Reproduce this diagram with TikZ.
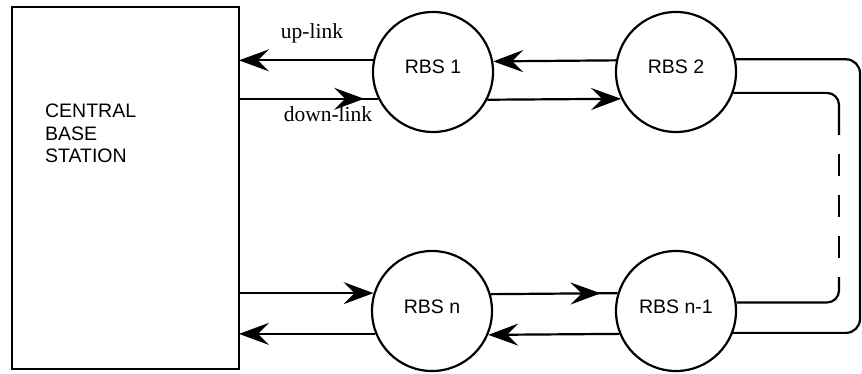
\documentclass[tikz,border=0pt]{standalone}
\usepackage{fontspec}
\setmainfont{Liberation Serif}
\newfontfamily\helv{Liberation Sans}
\usetikzlibrary{arrows.meta,decorations.markings,calc}
\begin{document}
\begin{tikzpicture}[x=1pt,y=-1pt,
  line width=2.2pt,
  rbs/.style={circle,draw,minimum size=120pt,inner sep=0pt,text height=14pt,text depth=10pt,
    font=\helv\fontsize{19.5}{22}\selectfont},
  tipstyle/.style={-{Stealth[length=30pt,width=22pt,inset=11pt]}},
  midtip/.style={postaction={decorate},decoration={markings,
    mark=at position #1 with {\arrow{Stealth[length=30pt,width=22pt,inset=11pt]}}}},
  lbl/.style={font=\fontsize{21.5}{24}\selectfont,inner sep=0pt},
  cbsbox/.style={draw,minimum width=227pt,minimum height=362pt,inner sep=0pt,outer sep=0pt}
]
\useasboundingbox (0,0) rectangle (862,374);

% central base station
\node[cbsbox,anchor=north west] (cbs) at (12,7) {};
\node[anchor=north west,align=left,inner sep=0pt,
  font=\helv\fontsize{19.5}{22.5}\selectfont] (cbstext) at (44,103) {CENTRAL\\BASE\\STATION};

% remote base stations
\node[rbs] (r1) at (433,72) {RBS 1};
\node[rbs] (r2) at (676,72) {RBS 2};
\node[rbs] (rn) at (432,311) {RBS n};
\node[rbs] (rn1) at (676,311) {RBS n-1};

% labels
\node[lbl] (ul) at (312,33) {up-link};
\node[lbl] (dl) at (328,114.5) {down-link};

% top row
\draw[tipstyle] (r1.169.4) -- (cbs.east |- r1.169.4);
\draw[midtip=-14pt] (cbs.east |- r1.206.7) -- (r1.206.7);
\draw[tipstyle] (r2.169.4) -- (r1.10.6);
\draw[tipstyle] (r1.333.3) -- (r2.206.7);

% bottom row
\draw[tipstyle] (cbs.east |- rn.163.5) -- (rn.163.5);
\draw[tipstyle] (rn.202.5) -- (cbs.east |- rn.202.5);
\draw[midtip=-17pt] (rn.16.5) -- (rn1.163.5);
\draw[tipstyle] (rn1.202.5) -- (rn.337.5);

% ring closure
\coordinate (o1) at (860,0);
\coordinate (d1) at (839,135);
\coordinate (d2) at (839,277);
\draw[rounded corners=14pt] (r2.12.5) -- (r2.12.5 -| o1) -- (rn1.339.5 -| o1) -- (rn1.339.5);
\draw[rounded corners=12pt] (r2.340.5) -- (r2.340.5 -| d1) -- (d1);
\draw[dash pattern=on 22pt off 19pt,dash phase=22pt] (d1) -- (d2);
\draw[rounded corners=12pt] (d2) -- (rn1.8.6 -| d2) -- (rn1.8.6);
\end{tikzpicture}
\end{document}
